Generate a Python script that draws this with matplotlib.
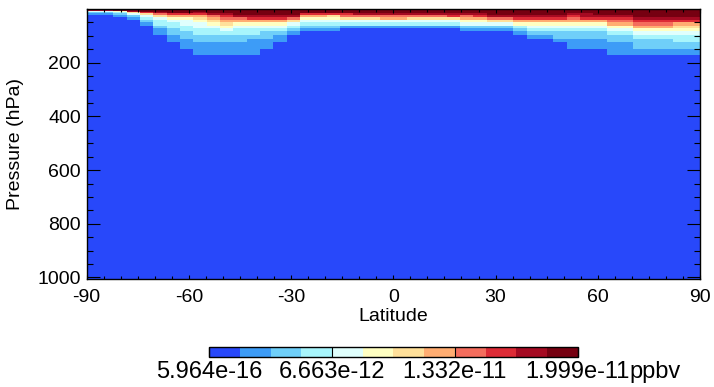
import numpy as np
import matplotlib
matplotlib.use('Agg')
import matplotlib.pyplot as plt
from matplotlib.colors import ListedColormap, BoundaryNorm
from matplotlib.ticker import MultipleLocator, FixedLocator

plt.rcParams['font.family'] = ['Liberation Sans', 'DejaVu Sans']
plt.rcParams['axes.unicode_minus'] = False

# clases de color de la barra (de menor a mayor)
colores = ['#2848fa', '#3d9cf7', '#6fcff9', '#a8f5fc', '#e0fffd', '#ffffc2',
           '#ffe09a', '#ffad72', '#f46d5d', '#dd2b36', '#a50a22', '#760011']
vmin = 5.964e-16
vmax = 1.999e-11
cb_labels = ['5.964e-16', '6.663e-12', '1.332e-11', '1.999e-11']
unidad = 'ppbv'

# bordes de los niveles de presion (hPa), de arriba hacia abajo
p_edges = [0, 3, 6, 10, 15, 24, 31, 41, 50, 62, 71, 83, 96, 110, 124, 149, 171, 1013]

# una columna por banda de latitud (de -90 a 90); cada caracter es la clase
# de color del nivel, desde el tope; los niveles no escritos son la clase 0
perfiles = [
    'ba421', 'ba421', 'bb5321', 'bba6421', 'bbb964321', 'bbba86433211',
    'bbbb9754332211', 'bbbb97544332211', 'bbba976544332211', 'bbbba87654332211',
    'bbbba98765432211', 'bbbbba8754332211', 'bbbbba9754332111', 'bbbbba975432211',
    'bbbbba97543211', 'bbbbba864321', 'bbbb9754321', 'bbbb9754321', 'bbbb9654321',
    'bbbb986431', 'bbbba86431', 'bbbba86431', 'bbbba87431', 'bbbba87431',
    'bbbba86431', 'bbbba86431', 'bbbba86431', 'bbbba96431',
    'bbbba875421', 'bbbba975421', 'bbbbba86421', 'bbbbba86421', 'bbbbba975321',
    'bbbbba9754321', 'bbbbba9754321', 'bbbbba97543221', 'bbbba9875432211',
    'bbbbaa975432211', 'bbbbba975432211', 'bbbbba9875432211', 'bbbbba9875432211',
    'bbbbbba987543221', 'bbbbbba987543221', 'bbbbbba987543221',
    'bbbbbba976543321', 'bbbbbba976543321',
]

nlev = len(p_edges) - 1
cat = np.zeros((nlev, len(perfiles)), dtype=int)
for j, s in enumerate(perfiles):
    for i, c in enumerate(s):
        cat[i, j] = int(c, 16)

levels = np.linspace(vmin, vmax, len(colores) + 1)
campo = 0.5 * (levels[cat] + levels[cat + 1])
lat_edges = np.linspace(-90, 90, len(perfiles) + 1)

fig = plt.figure(figsize=(7.14, 3.87), dpi=100)
ax = fig.add_axes([0.1214, 0.2796, 0.8590, 0.6964])

cmap = ListedColormap(colores)
norm = BoundaryNorm(levels, cmap.N)
mesh = ax.pcolormesh(lat_edges, p_edges, campo, cmap=cmap, norm=norm,
                     shading='flat', edgecolors='none', antialiased=False)

ax.set_xlim(-90, 90)
ax.set_ylim(1005, 1)
ax.xaxis.set_major_locator(MultipleLocator(30))
ax.xaxis.set_minor_locator(MultipleLocator(5))
ax.yaxis.set_major_locator(FixedLocator([200, 400, 600, 800, 1000]))
ax.yaxis.set_minor_locator(MultipleLocator(50))
ax.tick_params(which='both', direction='in', top=True, right=True, labelsize=14, width=0.8)
ax.tick_params(axis='x', which='major', length=3.2, pad=7.5)
ax.tick_params(axis='x', which='minor', length=1.9)
ax.tick_params(axis='y', which='major', length=9.2, pad=4)
ax.tick_params(axis='y', which='minor', length=4.5)
for sp in ax.spines.values():
    sp.set_linewidth(1.0)

ax.set_xlabel('Latitude', fontsize=14)
ax.set_ylabel('Pressure (hPa)', fontsize=14)
ax.xaxis.set_label_coords(0.5, -0.110)
ax.yaxis.set_label_coords(-0.102, 0.5)

cax = fig.add_axes([0.2931, 0.0783, 0.5160, 0.0258])
cb = fig.colorbar(mesh, cax=cax, orientation='horizontal', ticks=levels[::4])
cb.set_ticklabels(cb_labels)
cb.minorticks_off()
cb.outline.set_linewidth(1.0)
cax.tick_params(direction='in', length=7.2, width=0.8, labelsize=17, pad=3)
cax.annotate(unidad, xy=(1, 0), xycoords='axes fraction', xytext=(37.5, -3),
             textcoords='offset points', ha='left', va='top', fontsize=17)

fig.savefig('out.png', dpi=100)
